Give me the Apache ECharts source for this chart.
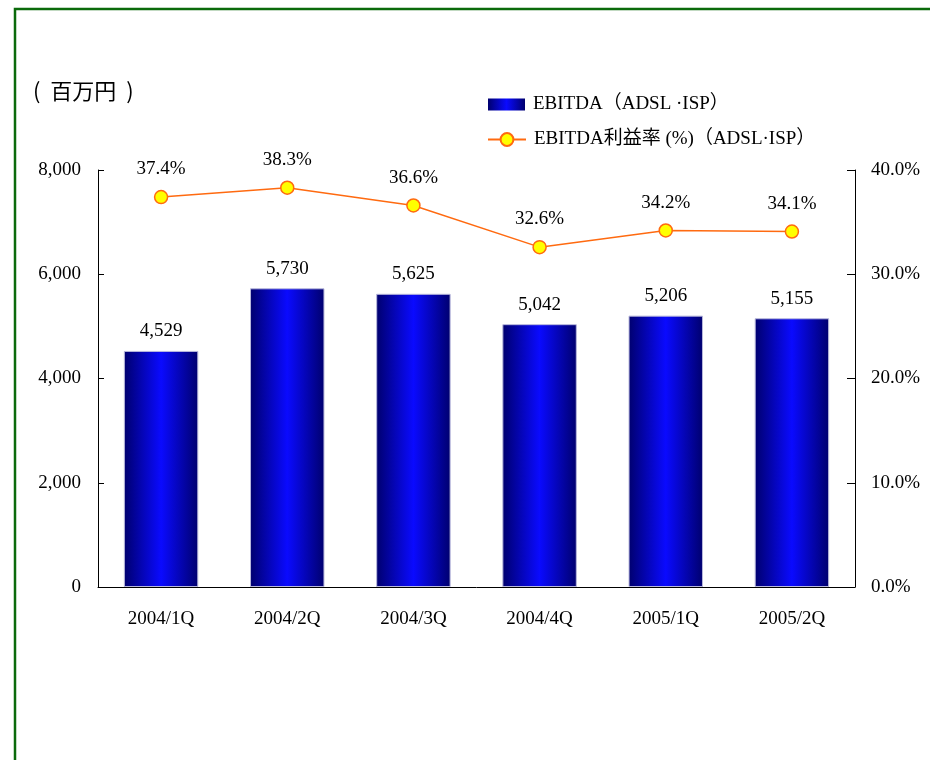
<!DOCTYPE html>
<html>
<head>
<meta charset="utf-8">
<script src="https://cdn.jsdelivr.net/npm/echarts@6/dist/echarts.min.js"></script>
<style>
html,body{margin:0;padding:0;background:#fff;}
#chart{width:930px;height:760px;}
</style>
</head>
<body>
<div id="chart"></div>
<script>
const categories = ['2004/1Q', '2004/2Q', '2004/3Q', '2004/4Q', '2005/1Q', '2005/2Q'];
const ebitda = [4529, 5730, 5625, 5042, 5206, 5155];
const margin = [37.4, 38.3, 36.6, 32.6, 34.2, 34.1];
const leftTicks = [0, 2000, 4000, 6000, 8000];
const rightTicks = [0, 10, 20, 30, 40];
const barName = 'EBITDA（ADSL ·ISP）';
const lineName = 'EBITDA利益率 (%)（ADSL·ISP）';

const serif = "'Liberation Serif', 'Times New Roman', 'Noto Sans CJK JP', serif";
const chart = echarts.init(document.getElementById('chart'), null, {renderer: 'canvas'});

const option = {
  backgroundColor: '#ffffff',
  animation: false,
  textStyle: {fontFamily: serif},
  title: {
    text: '(  百万円  )',
    left: 33,
    top: 80,
    padding: 0,
    textStyle: {fontFamily: "'Noto Sans CJK JP', sans-serif", fontSize: 22, fontWeight: 'normal', color: '#000'}
  },
  graphic: [{
    type: 'polyline',
    shape: {points: [[15, 760], [15, 9], [930, 9]]},
    style: {stroke: '#0b6a0b', lineWidth: 2.5, fill: null},
    silent: true
  }],
  legend: [{
    orient: 'vertical',
    left: 488,
    top: 95,
    padding: 0,
    itemWidth: 37,
    itemHeight: 12,
    itemStyle: {borderWidth: 0},
    textStyle: {fontFamily: serif, fontSize: 19, color: '#000', padding: [0, 0, 0, 3]},
    data: [{name: barName, icon: 'rect'}]
  }, {
    orient: 'vertical',
    left: 487,
    top: 130,
    padding: 0,
    itemWidth: 38,
    itemHeight: 16,
    textStyle: {fontFamily: serif, fontSize: 19, color: '#000', padding: [0, 0, 0, 3]},
    data: [{name: lineName}]
  }],
  grid: {left: 98, right: 75, top: 170, bottom: 173},
  xAxis: {
    type: 'category',
    data: categories,
    boundaryGap: true,
    axisLine: {lineStyle: {color: '#000', width: 1}},
    axisTick: {inside: true, length: 6, lineStyle: {color: '#000'}},
    axisLabel: {margin: 23, fontSize: 19, color: '#000', fontFamily: serif}
  },
  yAxis: [{
    type: 'value',
    min: leftTicks[0],
    max: leftTicks[leftTicks.length - 1],
    interval: leftTicks[1] - leftTicks[0],
    axisLine: {show: true, lineStyle: {color: '#000', width: 1}},
    axisTick: {show: true, inside: true, length: 6, lineStyle: {color: '#000'}},
    splitLine: {show: false},
    axisLabel: {margin: 17, fontSize: 19, color: '#000', fontFamily: serif,
      formatter: v => v.toLocaleString('en-US')}
  }, {
    type: 'value',
    position: 'right',
    min: rightTicks[0],
    max: rightTicks[rightTicks.length - 1],
    interval: rightTicks[1] - rightTicks[0],
    axisLine: {show: true, lineStyle: {color: '#000', width: 1}},
    axisTick: {show: true, inside: true, length: 8, lineStyle: {color: '#000'}},
    splitLine: {show: false},
    axisLabel: {margin: 16, fontSize: 19, color: '#000', fontFamily: serif,
      formatter: v => v.toFixed(1) + '%'}
  }],
  series: [{
    name: barName,
    type: 'bar',
    data: ebitda,
    barWidth: '59%',
    itemStyle: {
      color: new echarts.graphic.LinearGradient(0, 0, 1, 0, [
        {offset: 0, color: '#00006e'},
        {offset: 0.5, color: '#0a0aff'},
        {offset: 1, color: '#00006e'}
      ]),
      borderColor: '#b8b8dc',
      borderWidth: 1
    },
    label: {
      show: true, position: 'top', distance: 10,
      fontSize: 19, color: '#000', fontFamily: serif,
      formatter: p => p.value.toLocaleString('en-US')
    }
  }, {
    name: lineName,
    type: 'line',
    yAxisIndex: 1,
    data: margin,
    symbol: 'circle',
    symbolSize: 13,
    lineStyle: {color: '#ff6a10', width: 1.5},
    itemStyle: {color: '#ffff00', borderColor: '#ff6a10', borderWidth: 1.5},
    label: {
      show: true, position: 'top', distance: 11,
      fontSize: 19, color: '#000', fontFamily: serif,
      formatter: p => p.value.toFixed(1) + '%'
    },
    z: 5
  }]
};
chart.setOption(option);
</script>
</body>
</html>
